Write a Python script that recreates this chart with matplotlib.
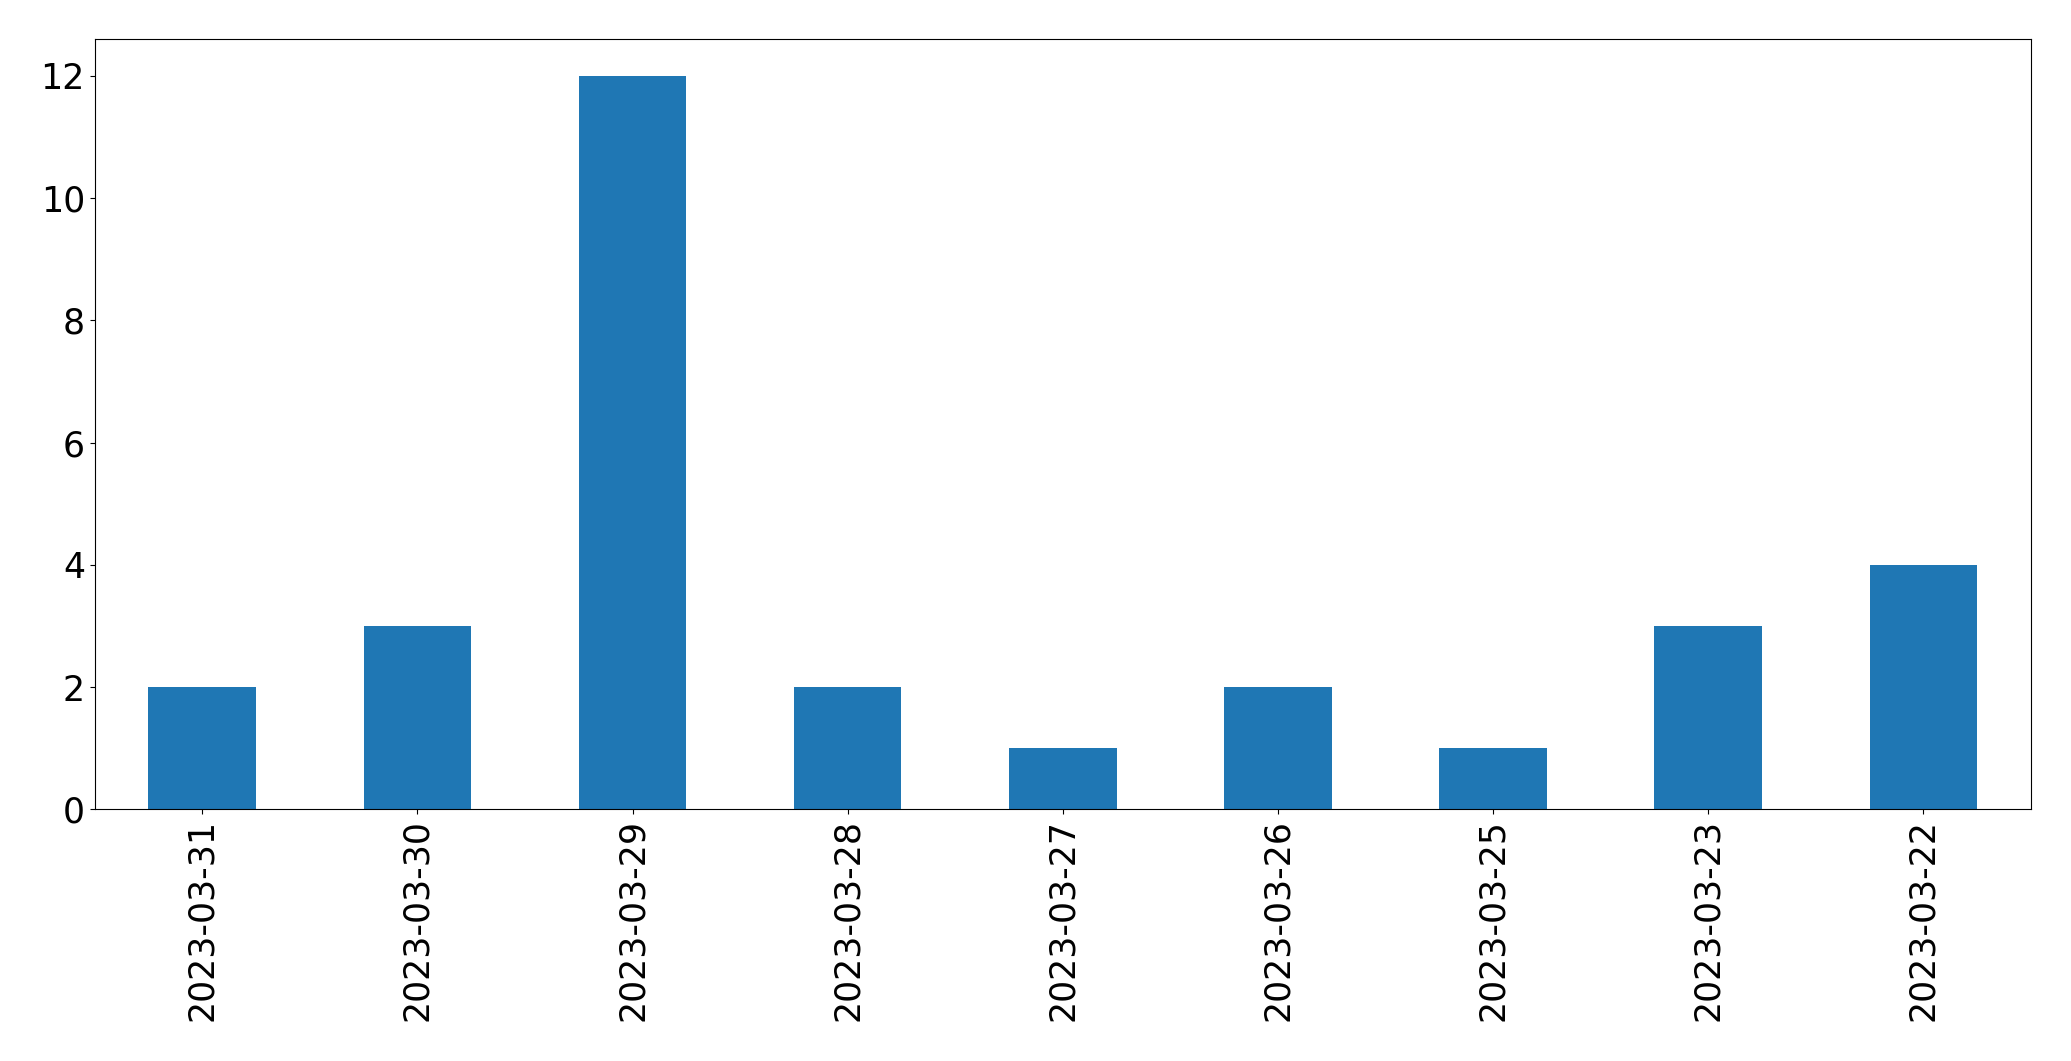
import matplotlib
matplotlib.use("Agg")
import matplotlib.pyplot as plt

dates = ["2023-03-31", "2023-03-30", "2023-03-29", "2023-03-28", "2023-03-27",
         "2023-03-26", "2023-03-25", "2023-03-23", "2023-03-22"]
counts = [2, 3, 12, 2, 1, 2, 1, 3, 4]

fig = plt.figure(figsize=(20.71, 10.61), dpi=100)
ax = fig.add_axes([94.7 / 2071, 1 - 809.3 / 1061, (2031 - 94.7) / 2071, (809.3 - 39.3) / 1061])
x = list(range(len(dates)))
ax.bar(x, counts, width=0.5, color="#1f77b4")
ax.set_xlim(-0.5, len(dates) - 0.5)
ax.set_ylim(0, 12.6)
ax.set_xticks(x)
ax.set_xticklabels(dates, rotation=90)
ax.set_yticks([0, 2, 4, 6, 8, 10, 12])
ax.tick_params(axis="both", labelsize=25)
fig.savefig("out.png", dpi=100)
